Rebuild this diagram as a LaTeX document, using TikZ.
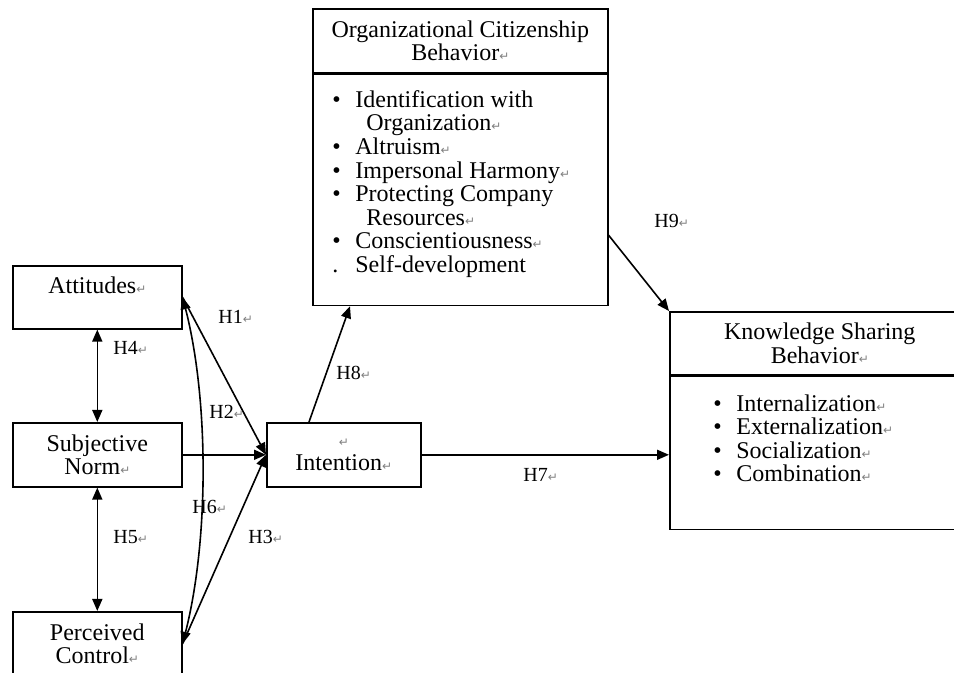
\documentclass[tikz,border=0pt]{standalone}
\usepackage{fontspec}
\setmainfont{Liberation Serif}
\newfontfamily\symfont{DejaVu Sans}
\usetikzlibrary{positioning, arrows.meta, calc}
% Word paragraph mark and list bullets
\newcommand{\retmark}{{\symfont\fontsize{6}{6}\selectfont\textcolor{gray}{↵}}}
\newcommand{\itm}[1]{\makebox[11.5pt][l]{\textbullet}#1}
\newcommand{\ind}{\hspace*{17pt}}

\tikzset{
    box/.style={draw, line width=0.8pt, inner sep=0pt, anchor=north west, align=center,
        minimum width=84.5pt, minimum height=32pt, font=\fontsize{12}{11.8}\selectfont},
    listtext/.style={inner sep=0pt, anchor=north west, align=left, font=\fontsize{12}{11.8}\selectfont},
    hlabel/.style={inner sep=0pt, anchor=west, font=\fontsize{10}{10}\selectfont},
    conn/.style={draw, line width=0.8pt, -{Triangle[length=6pt, width=5pt]}},
    bidir/.style={draw, line width=0.8pt, {Triangle[length=6pt, width=5pt]}-{Triangle[length=6pt, width=5pt]}}
}

\begin{document}
\begin{tikzpicture}[x=0.5pt, y=-0.5pt]
    \useasboundingbox (0,0) rectangle (954,673);
    % Predictors
    \node[box, minimum height=31.5pt] (att) at (12,265) {Attitudes\retmark\\\mbox{}};
    \node[box] (sn) at (12,422) {Subjective\\Norm\retmark};
    \node[box] (pc) at (12,611) {Perceived\\Control\retmark};
    % Intention
    \node[box, minimum width=77pt] (int) at (266,422) {\retmark\\Intention\retmark};
    % Organizational citizenship behavior
    \node[box, minimum width=147.5pt] (ocbhead) at (312,8) {Organizational Citizenship\\Behavior\retmark};
    \node[box, minimum width=147.5pt, minimum height=115.5pt] (ocbbody) at (ocbhead.south west) {};
    \node[listtext] (ocblist) at (332,90) {\itm{Identification with}\\
        \ind Organization\retmark\\
        \itm{Altruism\retmark}\\
        \itm{Impersonal Harmony\retmark}\\
        \itm{Protecting Company}\\
        \ind Resources\retmark\\
        \itm{Conscientiousness\retmark}\\
        \makebox[11.5pt][l]{.}Self-development};
    % Knowledge sharing behavior
    \node[box, minimum width=150pt, minimum height=31.5pt] (ksbhead) at (669,311) {Knowledge Sharing\\Behavior\retmark};
    \node[box, minimum width=150pt, minimum height=76.5pt] (ksbbody) at (ksbhead.south west) {};
    \node[listtext] (ksblist) at (713,394) {\itm{Internalization\retmark}\\
        \itm{Externalization\retmark}\\
        \itm{Socialization\retmark}\\
        \itm{Combination\retmark}};

    % Connectors
    \draw[bidir] (att.south) -- (sn.north);
    \draw[bidir] (sn.south) -- (pc.north);
    \draw[conn] (att.east) -- (int.west);
    \draw[conn] (sn.east) -- (int.west);
    \draw[conn] (pc.east) -- (int.west);
    \draw[bidir] (att.east) .. controls (209,400) and (209,540) .. (pc.east);
    \draw[conn] ([xshift=21.5pt]int.north west) -- ([xshift=19pt]ocbbody.south west);
    \draw[conn] (int.east) -- (int.east -| ksbbody.west);
    \draw[conn] ([yshift=35.5pt]ocbbody.south east) -- (ksbhead.north west);

    % Hypothesis labels
    \node[hlabel] (h1) at (218,317) {H1\retmark};
    \node[hlabel] (h2) at (209,412) {H2\retmark};
    \node[hlabel] (h3) at (248,537) {H3\retmark};
    \node[hlabel] (h4) at (113,348) {H4\retmark};
    \node[hlabel] (h5) at (113,537) {H5\retmark};
    \node[hlabel] (h6) at (192,507) {H6\retmark};
    \node[hlabel] (h7) at (523,475) {H7\retmark};
    \node[hlabel] (h8) at (336,373) {H8\retmark};
    \node[hlabel] (h9) at (654,221) {H9\retmark};
\end{tikzpicture}
\end{document}
